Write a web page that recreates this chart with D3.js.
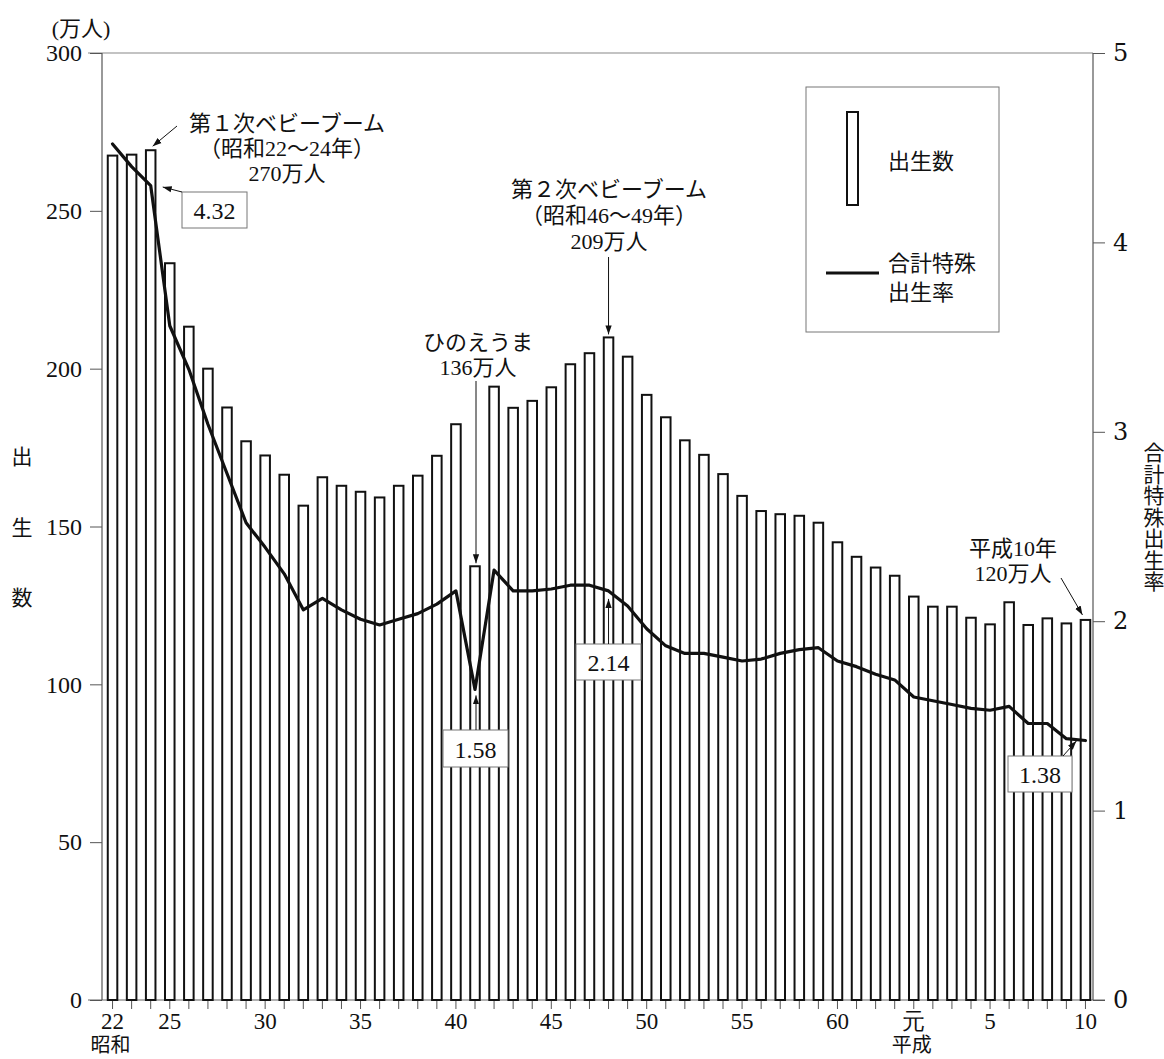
<!DOCTYPE html>
<html>
<head>
<meta charset="utf-8">
<script src="https://cdn.jsdelivr.net/npm/d3@7"></script>
<style>
  html, body { margin: 0; padding: 0; background: #fff; }
  svg { display: block; }
  text { fill: #111; }
</style>
</head>
<body>
<div id="chart"></div>
<script>
// ---- Data ----
const years = d3.range(1947, 1999);
// 出生数 (万人)
const births = [
  267.5, 267.8, 269.2, 233.4, 213.3, 200.0, 187.7, 177.0, 172.5, 166.4,
  156.6, 165.6, 162.9, 161.0, 159.2, 162.9, 166.1, 172.4, 182.4, 137.4,
  194.3, 187.6, 189.8, 194.1, 201.4, 204.9, 209.9, 203.8, 191.7, 184.6,
  177.3, 172.7, 166.6, 159.7, 154.9, 153.9, 153.4, 151.2, 145.0, 140.4,
  137.0, 134.4, 127.8, 124.6, 124.6, 121.1, 119.0, 126.0, 118.8, 120.9,
  119.3, 120.4
];
// 合計特殊出生率
const tfr = [
  4.52, 4.40, 4.30, 3.56, 3.33, 3.04, 2.78, 2.52, 2.39, 2.25,
  2.06, 2.12, 2.06, 2.01, 1.98, 2.01, 2.04, 2.09, 2.16, 1.64,
  2.27, 2.16, 2.16, 2.17, 2.19, 2.19, 2.16, 2.08, 1.96, 1.87,
  1.83, 1.83, 1.81, 1.79, 1.80, 1.83, 1.85, 1.86, 1.79, 1.76,
  1.72, 1.69, 1.60, 1.58, 1.56, 1.54, 1.53, 1.55, 1.46, 1.46,
  1.38, 1.37
];
const xTickYears  = [1947, 1950, 1955, 1960, 1965, 1970, 1975, 1980, 1985, 1989, 1993, 1998];
const xTickLabels = ["22", "25", "30", "35", "40", "45", "50", "55", "60", "元", "5", "10"];
const eraYears  = [1947, 1989];
const eraLabels = ["昭和", "平成"];
const leftTicks  = [0, 50, 100, 150, 200, 250, 300];
const rightTicks = [0, 1, 2, 3, 4, 5];

// ---- Layout ----
const W = 1164, H = 1059;
const plotTop = 53, plotBottom = 1000, leftX = 102, rightX = 1093;
const SERIF = "'Liberation Serif', 'Noto Sans CJK JP', serif";
const F2 = "'DejaVu Serif', 'Noto Sans CJK JP', serif";
const F3 = "serif";

const svg = d3.select("#chart").append("svg").attr("width", W).attr("height", H);

const x = d3.scaleBand().domain(years).range([103, 1095]).paddingInner(0.5).paddingOuter(0.25);
const yL = d3.scaleLinear().domain([0, 300]).range([plotBottom, plotTop]);
const yR = d3.scaleLinear().domain([0, 5]).range([plotBottom, plotTop]);
const cx = yr => x(yr) + x.bandwidth() / 2;

// arrow marker
const defs = svg.append("defs");
defs.append("marker").attr("id", "arr").attr("viewBox", "0 0 10 10")
  .attr("refX", 10).attr("refY", 5).attr("markerWidth", 9).attr("markerHeight", 9)
  .attr("markerUnits", "userSpaceOnUse").attr("orient", "auto")
  .append("path").attr("d", "M0,1.5 L10,5 L0,8.5 Z").attr("fill", "#111");

// frame lines
svg.append("line").attr("x1", 88).attr("x2", rightX).attr("y1", plotTop).attr("y2", plotTop)
  .attr("stroke", "#888").attr("stroke-width", 1.2);
svg.append("line").attr("x1", 88).attr("x2", 1105).attr("y1", plotBottom).attr("y2", plotBottom)
  .attr("stroke", "#666").attr("stroke-width", 1.2);

// left axis
const gL = svg.append("g").attr("transform", `translate(${leftX},0)`)
  .call(d3.axisLeft(yL).tickValues(leftTicks).tickSize(12).tickPadding(8).tickFormat(d3.format("d")));
gL.attr("font-family", null);
gL.select(".domain").attr("stroke", "#555").attr("stroke-width", 1.2).attr("d", `M0,${plotTop}V${plotBottom}`);
gL.selectAll(".tick line").attr("stroke", "#555");
gL.selectAll(".tick text").attr("font-size", 24).attr("fill", "#111").style("font-family", SERIF);

// right axis
const gR = svg.append("g").attr("transform", `translate(${rightX},0)`)
  .call(d3.axisRight(yR).tickValues(rightTicks).tickSize(12).tickPadding(8).tickFormat(d3.format("d")));
gR.attr("font-family", null);
gR.select(".domain").attr("stroke", "#555").attr("stroke-width", 1.2).attr("d", `M0,${plotTop}V${plotBottom}`);
gR.selectAll(".tick line").attr("stroke", "#555");
gR.selectAll(".tick text").attr("font-size", 24).attr("fill", "#111").style("font-family", F2);

// x ticks at each bar
svg.append("g").selectAll("line").data(years).join("line")
  .attr("x1", d => cx(d)).attr("x2", d => cx(d))
  .attr("y1", plotBottom).attr("y2", plotBottom + 9)
  .attr("stroke", "#555").attr("stroke-width", 1);

// x labels
svg.append("g").selectAll("text").data(xTickYears).join("text")
  .attr("x", d => cx(d)).attr("y", 1021)
  .attr("text-anchor", "middle").attr("dominant-baseline", "central")
  .style("font-family", F3)
  .attr("font-size", 23).text((d, i) => xTickLabels[i]);
svg.append("g").selectAll("text").data(eraYears).join("text")
  .attr("x", d => cx(d) - 2).attr("y", 1045)
  .attr("text-anchor", "middle").attr("dominant-baseline", "central")
  .style("font-family", SERIF)
  .attr("font-size", 20).text((d, i) => eraLabels[i]);

// bars
svg.append("g").selectAll("rect").data(years).join("rect")
  .attr("x", d => x(d)).attr("width", x.bandwidth())
  .attr("y", (d, i) => yL(births[i])).attr("height", (d, i) => plotBottom - yL(births[i]))
  .attr("fill", "#fff").attr("stroke", "#111").attr("stroke-width", 2);

// TFR line
const line = d3.line().x((d, i) => cx(years[i])).y(d => yR(d)).curve(d3.curveLinear);
svg.append("path").datum(tfr).attr("d", line)
  .attr("fill", "none").attr("stroke", "#111").attr("stroke-width", 3.2)
  .attr("stroke-linejoin", "round").attr("stroke-linecap", "round");

// axis titles
svg.append("text").attr("x", 81).attr("y", 28).attr("text-anchor", "middle")
  .attr("dominant-baseline", "central").attr("font-size", 22).style("font-family", SERIF).text("(万人)");
const leftTitle = ["出", "生", "数"];
const leftTitleY = [457, 528, 598];
svg.append("g").selectAll("text").data(leftTitle).join("text")
  .attr("x", 22).attr("y", (d, i) => leftTitleY[i]).attr("text-anchor", "middle")
  .attr("dominant-baseline", "central").attr("font-size", 21).style("font-family", SERIF).text(d => d);
svg.append("text").attr("x", 1152).attr("y", 442)
  .style("writing-mode", "vertical-rl").attr("text-anchor", "start").style("font-family", SERIF)
  .attr("font-size", 21).attr("letter-spacing", 0.5).text("合計特殊出生率");

// legend
const lg = svg.append("g").style("font-family", SERIF);
lg.append("rect").attr("x", 806).attr("y", 87).attr("width", 193).attr("height", 245)
  .attr("fill", "#fff").attr("stroke", "#777").attr("stroke-width", 1);
lg.append("rect").attr("x", 847).attr("y", 112).attr("width", 11).attr("height", 93)
  .attr("fill", "#fff").attr("stroke", "#111").attr("stroke-width", 2);
lg.append("text").attr("x", 888).attr("y", 161).attr("dominant-baseline", "central")
  .attr("font-size", 22).text("出生数");
lg.append("line").attr("x1", 826).attr("x2", 879).attr("y1", 273).attr("y2", 273)
  .attr("stroke", "#111").attr("stroke-width", 3.2);
lg.append("text").attr("x", 888).attr("y", 263).attr("dominant-baseline", "central")
  .attr("font-size", 22).text("合計特殊");
lg.append("text").attr("x", 888).attr("y", 292).attr("dominant-baseline", "central")
  .attr("font-size", 22).text("出生率");

// annotations
function label(lines, xc, y0, dy) {
  lines.forEach((t, i) => {
    svg.append("text").attr("x", xc).attr("y", y0 + i * dy).attr("text-anchor", "middle")
      .attr("dominant-baseline", "central").attr("font-size", 22).style("font-family", SERIF).text(t);
  });
}
function arrow(x1, y1, x2, y2) {
  svg.append("line").attr("x1", x1).attr("y1", y1).attr("x2", x2).attr("y2", y2)
    .attr("stroke", "#111").attr("stroke-width", 1).attr("marker-end", "url(#arr)");
}
function box(x0, y0, w, h, t) {
  svg.append("rect").attr("x", x0).attr("y", y0).attr("width", w).attr("height", h)
    .attr("fill", "#fff").attr("stroke", "#777").attr("stroke-width", 1);
  svg.append("text").attr("x", x0 + w / 2).attr("y", y0 + h / 2 + 1).attr("text-anchor", "middle")
    .attr("dominant-baseline", "central").attr("font-size", 24).style("font-family", SERIF).text(t);
}
const iOf = yr => years.indexOf(yr);

// 第1次ベビーブーム
label(["第１次ベビーブーム", "（昭和22～24年）", "270万人"], 287, 123, 25);
arrow(177, 126, cx(1949) + 2, yL(births[iOf(1949)]) - 4);
box(182, 192, 65, 36, "4.32");
arrow(182, 192, cx(1949) + 12, 187);

// 第2次ベビーブーム
label(["第２次ベビーブーム", "（昭和46～49年）", "209万人"], 609, 189, 26);
arrow(cx(1973), 257, cx(1973), yL(births[iOf(1973)]) - 3);
box(576, 644, 65, 36, "2.14");
arrow(cx(1973), 644, cx(1973), yR(tfr[iOf(1973)]) + 8);

// ひのえうま
label(["ひのえうま", "136万人"], 478, 342, 25);
arrow(cx(1966) + 1, 381, cx(1966) + 1, yL(births[iOf(1966)]) - 3);
box(443, 730, 65, 37, "1.58");
arrow(cx(1966) + 1, 730, cx(1966) + 1, yR(tfr[iOf(1966)]) + 6);

// 平成10年
label(["平成10年", "120万人"], 1013, 548, 25);
arrow(1061, 578, cx(1998) - 3, yL(births[iOf(1998)]) - 5);
box(1008, 756, 64, 36, "1.38");
arrow(1063, 756, cx(1997) + 10, 741);
</script>
</body>
</html>
